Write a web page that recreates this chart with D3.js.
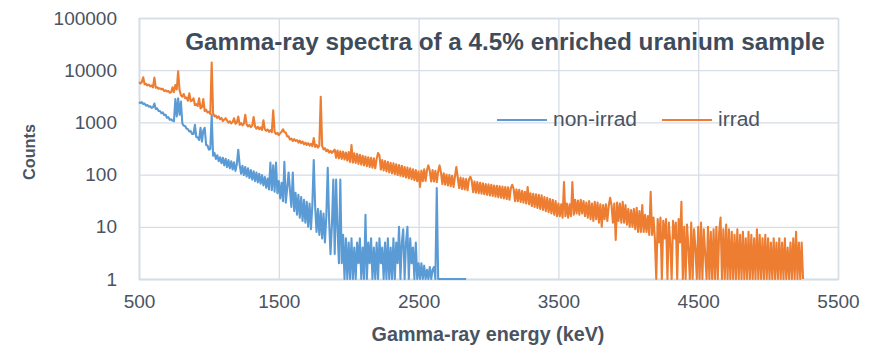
<!DOCTYPE html>
<html>
<head>
<meta charset="utf-8">
<script src="https://cdn.jsdelivr.net/npm/d3@7"></script>
<style>
  html, body { margin: 0; padding: 0; background: #fff; }
  svg { display: block; }
  text { font-family: "Liberation Sans", Arial, sans-serif; }
</style>
</head>
<body>
<svg id="chart" width="872" height="347"></svg>
<script>
// ---------- data ----------
const titleText = "Gamma-ray spectra of a 4.5% enriched uranium sample";
const xTitle = "Gamma-ray energy (keV)";
const yTitle = "Counts";
const seriesNames = ["non-irrad", "irrad"];
const seriesColors = ["#5b9bd5", "#ed7d31"];
const xTicks = [500, 1500, 2500, 3500, 4500, 5500];
const yTicks = [1, 10, 100, 1000, 10000, 100000];
const energyStart = 500;   // keV, first channel
const energyStep = 10;     // keV per listed value

// non-irradiated sample, counts every 10 keV from 500 keV
const nonIrrad = [
  2450, 2350, 2450, 2250, 2300, 2100, 2150, 2000, 2050, 1900,
  1950, 2300, 1800, 1850, 1650, 1650, 1500, 1550, 1380, 1400,
  1230, 1260, 1120, 1150, 1080, 1050, 2800, 1300, 2900, 1400,
  2500, 950, 860, 850, 760, 740, 670, 680, 600, 600,
  900, 520, 520, 460, 790, 430, 700, 790, 370, 360,
  300, 310, 1400, 230, 260, 200, 235, 180, 215, 165,
  210, 150, 200, 140, 190, 132, 180, 125, 172, 118,
  160, 300, 155, 104, 148, 98, 140, 92, 132, 86,
  122, 80, 116, 75, 110, 71, 104, 67, 98, 62,
  90, 56, 84, 52, 170, 50, 150, 47, 170, 44,
  75, 35, 70, 31, 175, 29, 55, 110, 50, 24,
  110, 20, 45, 17, 41, 15, 37, 13, 33, 12,
  30, 10, 28, 9, 26, 190, 24, 8, 22, 7,
  20, 6, 18, 5, 16, 135, 13, 3, 11, 80,
  3, 80, 9, 2, 80, 2, 7, 1, 6, 1,
  5, 1, 6, 1, 4, 1, 5, 2, 6, 1,
  4, 1, 17, 1, 5, 2, 6, 1, 4, 1,
  5, 1, 6, 2, 4, 1, 5, 1, 6, 1,
  4, 1, 6, 1, 5, 2, 10, 1, 5, 9,
  1, 5, 10, 1, 6, 2, 4, 1, 5, 1,
  2, 1, 2, 1, 1.8, 1, 1.5, 1, 1.7, 1,
  1.5, 1.7, 1, 55, 1, 1, 1, 1, 1, 1,
  1, 1, 1, 1, 1, 1, 1, 1, 1, 1,
  1, 1, 1, 1, 1
];

// irradiated sample, counts every 10 keV from 500 keV
const irrad = [
  5900, 5600, 5900, 7300, 5400, 5500, 5100, 5300, 4900, 5100,
  4700, 7200, 4600, 4700, 4400, 4500, 4300, 4400, 4000, 4100,
  3900, 4000, 3700, 3800, 4700, 3800, 5200, 4300, 9500, 4200,
  3300, 3100, 3500, 2900, 3000, 2600, 3600, 2550, 2650, 2900,
  2150, 2250, 2050, 2900, 1850, 1950, 2800, 1650, 1750, 1550,
  1600, 1450, 14000, 1500, 1300, 1350, 1220, 1300, 1150, 1220,
  1060, 1130, 1200, 1080, 990, 1050, 960, 1020, 1200, 940,
  1000, 1300, 900, 970, 880, 940, 1400, 920, 840, 890,
  810, 870, 1270, 840, 760, 820, 740, 800, 720, 1100,
  740, 690, 730, 660, 710, 650, 1700, 660, 600, 630,
  570, 620, 660, 740, 650, 640, 540, 540, 470, 490,
  440, 480, 440, 460, 410, 450, 400, 430, 380, 410,
  370, 400, 360, 390, 350, 500, 340, 370, 330, 360,
  3100, 355, 305, 320, 280, 300, 265, 285, 260, 280,
  300, 210, 290, 205, 280, 200, 275, 195, 265, 185,
  270, 175, 370, 170, 255, 168, 250, 160, 240, 155,
  230, 150, 222, 145, 215, 140, 210, 136, 205, 132,
  200, 260, 235, 125, 190, 120, 182, 115, 175, 110,
  168, 106, 164, 102, 158, 98, 152, 95, 148, 92,
  140, 88, 136, 85, 132, 82, 126, 78, 122, 75,
  115, 58, 120, 75, 126, 76, 122, 150, 118, 74,
  122, 74, 118, 72, 114, 150, 110, 66, 106, 64,
  100, 62, 98, 60, 95, 58, 92, 140, 88, 55,
  88, 53, 85, 52, 82, 50, 80, 91, 77, 46,
  74, 45, 72, 44, 70, 43, 68, 42, 66, 41,
  65, 40, 64, 39, 62, 38, 61, 37, 60, 36,
  59, 35, 58, 34, 57, 33, 55, 64, 53, 31,
  52, 31, 51, 30, 49, 29, 47, 28, 58, 27,
  44, 25, 43, 24, 42, 23, 41, 22, 40, 21,
  37, 20, 36, 19, 34, 18, 33, 17, 31, 16,
  28, 16, 27, 15, 72, 16, 28, 15, 27, 16,
  72, 17, 33, 18, 32, 17, 33, 18, 31, 16,
  29, 15, 31, 14, 28, 13, 30, 14, 29, 12,
  27, 10, 26, 14, 27, 13, 25, 36, 26, 12,
  28, 5.6, 29, 13, 28, 12, 30, 12, 26, 11,
  22, 10, 21, 10, 22, 9, 23, 8, 20, 8,
  26, 8, 17, 8, 16, 7, 47, 7, 15, 6,
  1, 14, 5, 15, 1, 13, 6, 14, 1, 12,
  5, 1, 13, 6, 12, 1, 14, 5, 30, 1,
  10, 1, 11, 4, 1, 12, 1, 9, 4, 1,
  10, 1, 12, 1, 9, 3, 1, 10, 1, 8,
  1, 9, 1, 10, 1, 8, 15, 1, 9, 1,
  11, 1, 9, 1, 8, 1, 7, 1, 9, 1,
  7, 1, 8, 1, 6, 1, 8, 1, 7, 1,
  6, 1, 9, 1, 7, 1, 6, 1, 7, 1,
  6, 1, 5, 1, 6, 1, 5, 1, 6, 1,
  5, 1, 6, 1, 4, 1, 5, 1, 6, 1,
  8, 1, 5, 1, 5, 1
];

// ---------- layout ----------
const svg = d3.select("#chart");
const plot = { left: 139, right: 838, top: 18, bottom: 279 };
const textColor = "#4a5361";
const gridColor = "#d6dde7";

const x = d3.scaleLinear().domain([500, 5500]).range([plot.left, plot.right]);
const y = d3.scaleLog().domain([1, 100000]).range([plot.bottom, plot.top]);

function fitWidth(sel, target) {
  const n = sel.node();
  const fs = parseFloat(sel.attr("font-size"));
  const w = n.getComputedTextLength();
  if (w > 0) sel.attr("font-size", (fs * target / w).toFixed(2));
  return sel;
}

// gridlines + tick labels
const gx = svg.append("g")
  .attr("transform", `translate(0,${plot.bottom})`)
  .call(d3.axisBottom(x).tickValues(xTicks).tickSize(-(plot.bottom - plot.top)).tickFormat(d3.format("d")).tickPadding(12));
gx.select(".domain").attr("stroke", gridColor).attr("stroke-width", 1.5);
gx.selectAll(".tick line").attr("stroke", gridColor).attr("stroke-width", 1.3);
gx.selectAll(".tick text").attr("fill", textColor).attr("font-size", 19)
  .attr("font-family", "Liberation Sans, Arial, sans-serif").attr("dy", "0.9em");

const gy = svg.append("g")
  .attr("transform", `translate(${plot.left},0)`)
  .call(d3.axisLeft(y).tickValues(yTicks).tickSize(-(plot.right - plot.left)).tickFormat(d3.format("d")).tickPadding(22));
gy.select(".domain").attr("stroke", gridColor).attr("stroke-width", 1.5);
gy.selectAll(".tick line").attr("stroke", gridColor).attr("stroke-width", 1.3);
gy.selectAll(".tick text").attr("fill", textColor).attr("font-size", 19)
  .attr("font-family", "Liberation Sans, Arial, sans-serif");

// series lines
const line = d3.line()
  .x((d, i) => x(energyStart + i * energyStep))
  .y(d => y(d));

svg.append("path").datum(nonIrrad)
  .attr("fill", "none").attr("stroke", seriesColors[0])
  .attr("stroke-width", 2.1).attr("stroke-linejoin", "round")
  .attr("d", line);
svg.append("path").datum(irrad)
  .attr("fill", "none").attr("stroke", seriesColors[1])
  .attr("stroke-width", 2.1).attr("stroke-linejoin", "round")
  .attr("d", line);

// title
const t = svg.append("text").attr("x", 505).attr("y", 50)
  .attr("text-anchor", "middle").attr("font-weight", "bold")
  .attr("font-size", 22).attr("fill", "#3e4b5c").text(titleText);
fitWidth(t, 640);

// legend
const legend = [
  { name: seriesNames[0], color: seriesColors[0], x0: 497, x1: 547, tx: 553, w: 84 },
  { name: seriesNames[1], color: seriesColors[1], x0: 662, x1: 712, tx: 718, w: 42 }
];
legend.forEach(l => {
  svg.append("line").attr("x1", l.x0).attr("x2", l.x1).attr("y1", 120).attr("y2", 120)
    .attr("stroke", l.color).attr("stroke-width", 2);
  const lt = svg.append("text").attr("x", l.tx).attr("y", 126)
    .attr("font-size", 18).attr("fill", textColor).text(l.name);
  fitWidth(lt, l.w);
});

// axis titles
const xt = svg.append("text").attr("x", 488).attr("y", 341)
  .attr("text-anchor", "middle").attr("font-weight", "bold")
  .attr("font-size", 17).attr("fill", textColor).text(xTitle);
fitWidth(xt, 233);

const yt = svg.append("text")
  .attr("transform", "translate(35,152) rotate(-90)")
  .attr("text-anchor", "middle").attr("font-weight", "bold")
  .attr("font-size", 17).attr("fill", textColor).text(yTitle);
fitWidth(yt, 56);
</script>
</body>
</html>
